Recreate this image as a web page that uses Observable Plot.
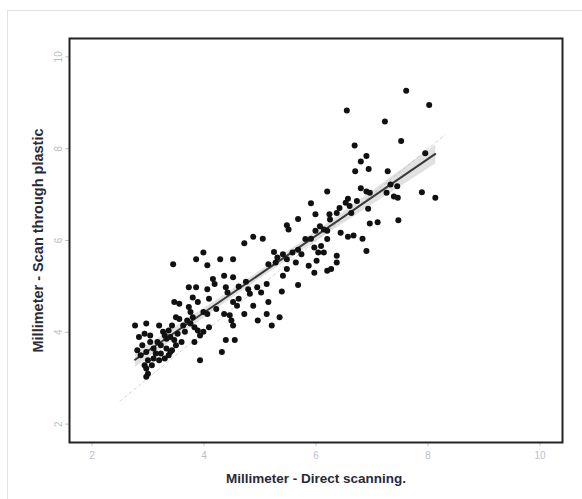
<!DOCTYPE html>
<html>
<head>
<meta charset="utf-8">
<script src="https://cdn.jsdelivr.net/npm/d3@7"></script>
<script src="https://cdn.jsdelivr.net/npm/@observablehq/plot@0.6"></script>
<style>
  html, body { margin: 0; padding: 0; background: #fff; }
  #wrap { position: relative; width: 582px; height: 499px; overflow: hidden; }
  #edge { position: absolute; left: 7px; top: 10px; width: 580px; height: 500px;
          border: 1px solid #e2e2e2; pointer-events: none; }
  svg { font-family: "Liberation Sans", Arial, sans-serif; }
</style>
</head>
<body>
<div id="wrap"><div id="edge"></div></div>
<script>
// Thickness in millimetres measured two ways: direct scanning (x) vs. scan through plastic (y)
const directScan = [
  7.61, 8.02, 6.55, 7.23, 7.52, 6.69, 7.95, 6.90, 6.80, 6.94, 6.70, 7.28, 6.20, 7.33, 7.45, 6.80,
  6.90, 6.96, 7.26, 7.39, 7.46, 7.89, 8.13, 6.57, 6.53, 6.60, 6.73, 6.42, 6.37, 6.93, 6.24, 6.25,
  6.63, 5.99, 5.91, 5.68, 5.48, 5.51, 6.96, 7.10, 7.47, 6.57, 6.67, 6.83, 6.90, 6.20, 6.20, 6.07,
  6.14, 5.99, 5.91, 5.97, 6.04, 6.09, 5.81, 4.88, 5.05, 4.72, 5.25, 5.31, 5.41, 5.48, 5.58, 5.68,
  5.74, 6.01, 5.87, 5.97, 6.20, 6.27, 6.37, 6.37, 5.48, 5.15, 5.28, 3.99, 3.86, 4.06, 4.29, 4.52,
  3.45, 5.68, 5.39, 5.12, 4.95, 5.02, 4.75, 4.79, 4.82, 4.62, 4.52, 4.36, 4.16, 4.19, 4.39, 4.42,
  4.06, 3.86, 3.73, 3.80, 3.89, 3.47, 3.56, 3.99, 4.06, 4.22, 4.36, 4.52, 4.59, 4.46, 4.49, 4.72,
  5.15, 5.12, 4.96, 5.35, 5.21, 4.52, 4.39, 4.55, 4.32, 3.93, 3.73, 3.76, 3.80, 3.70, 3.76, 3.83,
  3.89, 3.93, 3.99, 3.66, 3.63, 3.50, 3.56, 3.43, 3.37, 3.30, 3.20, 3.27, 3.40, 3.33, 3.47, 3.50,
  3.23, 3.33, 3.40, 3.17, 3.10, 3.04, 2.94, 3.04, 2.77, 2.97, 2.84, 2.90, 2.97, 2.81, 3.00, 3.10,
  3.20, 3.30, 3.37, 2.94, 2.97, 3.00, 2.97, 3.23, 3.43, 4.09, 4.62, 4.88, 5.41, 5.64, 6.14, 6.44,
  2.87, 3.07, 3.14, 3.53, 3.60, 4.09, 3.83
];
const throughPlastic = [
  9.26, 8.95, 8.83, 8.59, 8.17, 8.07, 7.90, 7.84, 7.72, 7.56, 7.51, 7.51, 7.07, 7.22, 7.18, 7.14,
  7.07, 7.04, 7.04, 6.96, 6.93, 7.05, 6.93, 6.91, 6.82, 6.75, 6.86, 6.71, 6.60, 6.69, 6.57, 6.46,
  6.60, 6.57, 6.81, 6.47, 6.33, 6.24, 6.37, 6.40, 6.44, 6.08, 6.11, 6.04, 5.77, 6.03, 6.21, 6.31,
  6.24, 6.21, 6.04, 5.85, 5.74, 5.88, 6.03, 6.08, 6.04, 5.94, 5.75, 5.63, 5.70, 5.59, 5.74, 5.80,
  5.70, 5.56, 5.45, 5.30, 5.34, 5.38, 5.52, 5.67, 5.38, 5.48, 5.52, 5.74, 5.59, 5.46, 5.59, 5.59,
  5.48, 5.03, 4.89, 5.05, 4.98, 4.87, 5.10, 4.94, 4.84, 5.00, 5.20, 5.23, 5.16, 5.05, 4.98, 4.87,
  4.94, 4.98, 4.98, 4.76, 4.66, 4.66, 4.62, 4.44, 4.40, 4.51, 4.40, 4.66, 4.58, 4.37, 4.26, 4.40,
  4.66, 4.40, 4.26, 4.33, 4.15, 4.15, 3.83, 3.83, 3.57, 3.39, 4.55, 4.44, 4.33, 4.26, 4.19, 4.11,
  4.04, 3.93, 4.01, 4.01, 4.15, 4.33, 4.29, 4.15, 4.04, 3.93, 4.15, 4.01, 3.90, 3.86, 3.83, 3.72,
  3.72, 3.65, 3.57, 3.79, 3.65, 3.79, 3.97, 3.93, 4.15, 4.19, 3.90, 3.72, 3.57, 3.61, 3.39, 3.43,
  3.39, 3.43, 3.50, 3.28, 3.21, 3.10, 3.03, 3.54, 3.61, 4.73, 4.73, 4.58, 5.23, 5.52, 5.74, 6.17,
  3.50, 3.28, 3.54, 3.97, 3.79, 4.11, 3.79
];
const axisTicks = [2, 4, 6, 8, 10];
const axisDomain = [1.6, 10.4];
const identitySpan = [2.5, 8.3];

const pairs = directScan.map((x, i) => ({x, y: throughPlastic[i]}));

const chart = Plot.plot({
  width: 582,
  height: 499,
  marginLeft: 69,
  marginRight: 20,
  marginTop: 38,
  marginBottom: 57,
  style: {background: "transparent", fontFamily: "'Liberation Sans', Arial, sans-serif"},
  x: {domain: axisDomain},
  y: {domain: axisDomain},
  marks: [
    Plot.line(identitySpan, {x: d => d, y: d => d, stroke: "#d6d6d6", strokeWidth: 1, strokeDasharray: "3,3"}),
    Plot.linearRegressionY(pairs, {x: "x", y: "y", stroke: "#3a3a3a", strokeWidth: 2, fill: "#9a9a9a", fillOpacity: 0.3, ci: 0.95}),
    Plot.dot(pairs, {x: "x", y: "y", r: 3, fill: "#111", stroke: "none"}),
    Plot.axisX({ticks: axisTicks, tickSize: 4, tickPadding: 5, stroke: "#c4c4c4", color: "#bcbcc8", fontSize: 10,
      label: "Millimeter - Direct scanning.", labelAnchor: "center", labelArrow: "none", labelOffset: 40}),
    Plot.axisY({ticks: axisTicks, tickSize: 4, tickPadding: 4, tickRotate: -90, stroke: "#c4c4c4", color: "#bcbcc8", fontSize: 10,
      label: "Millimeter - Scan through plastic", labelAnchor: "center", labelArrow: "none", labelOffset: 37}),
    Plot.frame({stroke: "#222", strokeWidth: 2})
  ]
});

// Axis titles are darker and heavier than tick labels
const titleSizes = {"x-axis label": "13.5px", "y-axis label": "14.5px"};
for (const [name, size] of Object.entries(titleSizes)) {
  for (const t of chart.querySelectorAll(`g[aria-label='${name}'] text`)) {
    t.setAttribute("fill", "#2a2a35");
    t.style.fontSize = size;
    t.style.fontWeight = "bold";
  }
}
document.getElementById("wrap").prepend(chart);
</script>
</body>
</html>
